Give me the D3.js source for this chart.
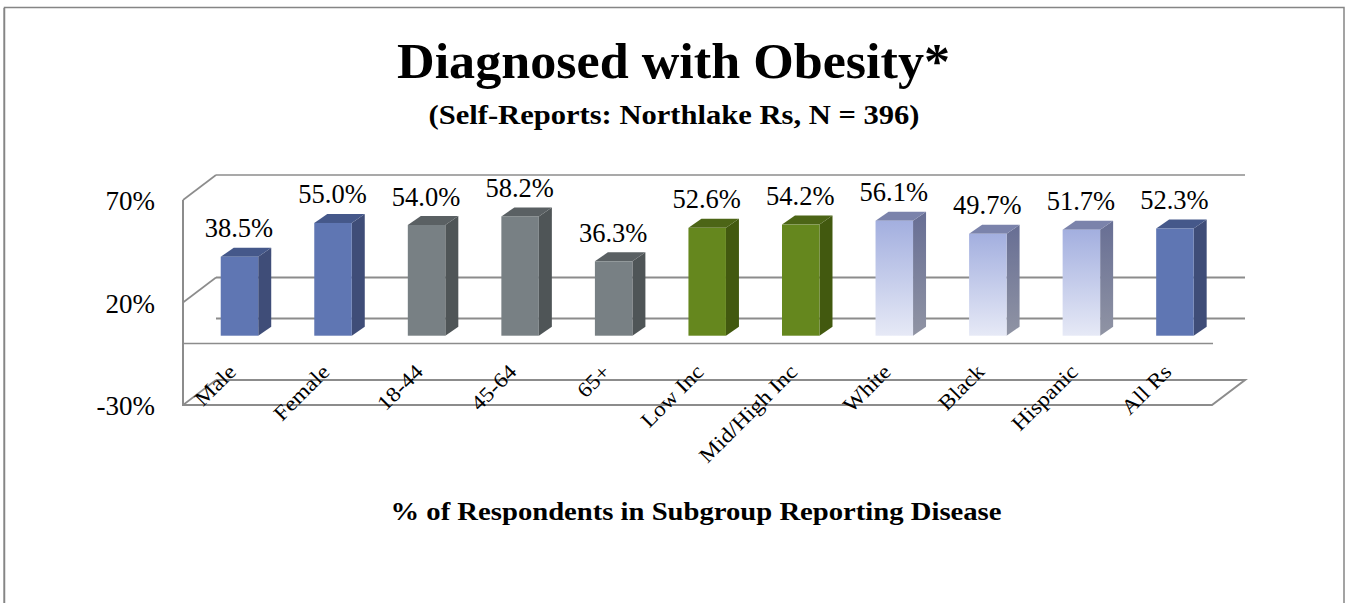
<!DOCTYPE html>
<html><head><meta charset="utf-8">
<script src="https://cdn.jsdelivr.net/npm/d3@7"></script>
<style>html,body{margin:0;padding:0;background:#fff}svg{display:block}text{font-family:"Liberation Serif",serif;fill:#000}</style>
</head><body><svg id="c" width="1350" height="603"></svg>
<script>
const categories=["Male","Female","18-44","45-64","65+","Low Inc","Mid/High Inc","White","Black","Hispanic","All Rs"];
const values=[38.5,55.0,54.0,58.2,36.3,52.6,54.2,56.1,49.7,51.7,52.3];
const groups=["blue","blue","gray","gray","gray","green","green","light","light","light","blue"];
const valueTicks=[70,20,-30];
const titleText="Diagnosed with Obesity*";
const subtitleText="(Self-Reports: Northlake Rs, N = 396)";
const captionText="% of Respondents in Subgroup Reporting Disease";
const palette={
 blue:{front:"#5f76b3",side:"#3f4d78",top:"#45588a"},
 gray:{front:"#788084",side:"#4f5557",top:"#5a6063"},
 green:{front:"#65871e",side:"#42590f",top:"#4c6516"},
 light:{front:"url(#lf)",side:"url(#ls)",top:"#7b83ab"}
};
const svg=d3.select("#c");
const defs=svg.append("defs");
function grad(id,a,b){const g=defs.append("linearGradient").attr("id",id).attr("x1",0).attr("y1",0).attr("x2",0).attr("y2",1);
 g.append("stop").attr("offset",0).attr("stop-color",a);g.append("stop").attr("offset",1).attr("stop-color",b);}
grad("lf","#a3afdf","#e6e9f6");grad("ls","#676e94","#9094a4");

const y=d3.scaleLinear().domain([-30,70]).range([405,200]);
const x=d3.scaleBand().domain(categories).range([183,1212]);
const dx=33,dy=-25;
const barW=37.5,bdx=13,bdy=-9,bx=9.7,by=-7.8;
const line="#8c8c8c";

svg.append("path").attr("d","M4.5,603V7.5H1344V603").attr("fill","none").attr("stroke","#858585").attr("stroke-width",1.5);
svg.append("rect").attr("x",3).attr("y",8).attr("width",1).attr("height",595).attr("fill","#a8a8a8");

const g=svg.append("g").attr("fill","none").attr("stroke",line);
[70,20,0].forEach(t=>g.append("line").attr("x1",x.range()[0]+dx).attr("x2",x.range()[1]+dx).attr("y1",y(t)+dy).attr("y2",y(t)+dy).attr("stroke-width",t==70?1.6:2));
[70,20,-30].forEach(t=>g.append("line").attr("x1",183).attr("y1",y(t)).attr("x2",183+dx).attr("y2",y(t)+dy).attr("stroke-width",1.6));
g.append("path").attr("d",`M${183},${y(-30)}H${1212}L${1212+dx},${y(-30)+dy}H${183+dx}`).attr("stroke-width",2);
g.append("line").attr("x1",183).attr("x2",1213).attr("y1",y(0)).attr("y2",y(0)).attr("stroke-width",1.6);
g.append("line").attr("x1",183).attr("x2",183).attr("y1",y(70)).attr("y2",y(-30)+1).attr("stroke-width",2);

const base=y(0)+by;
const bars=svg.append("g").selectAll("g").data(categories).join("g");
bars.each(function(c,i){
 const v=values[i],p=palette[groups[i]],s=d3.select(this);
 const l=x(c)+x.bandwidth()/2+bx-barW/2,r=l+barW,t=y(v)+by;
 s.append("path").attr("d",`M${r},${t}L${r+bdx},${t+bdy}V${base+bdy}L${r},${base}Z`).attr("fill",p.side);
 s.append("path").attr("d",`M${l},${t}L${l+bdx},${t+bdy}H${r+bdx}L${r},${t}Z`).attr("fill",p.top);
 s.append("rect").attr("x",l).attr("y",t).attr("width",barW).attr("height",base-t).attr("fill",p.front);
 s.append("text").attr("x",l+barW/2-0.5).attr("y",t-19.5).attr("text-anchor","middle").attr("font-size",26.5).text(v.toFixed(1)+"%");
});
svg.append("g").selectAll("text").data(valueTicks).join("text")
 .attr("x",155).attr("y",d=>y(d)+10).attr("text-anchor","end").attr("font-size",27).text(d=>d+"%");
svg.append("g").selectAll("text").data(categories).join("text")
 .attr("text-anchor","end").attr("font-size",21)
 .attr("transform",c=>`translate(${x(c)+x.bandwidth()/2+7.5},${373}) rotate(-45) scale(1.12,1)`)
 .text(c=>c);
svg.append("text").attr("x",673.5).attr("y",78).attr("text-anchor","middle").attr("font-size",50).attr("font-weight","bold").attr("textLength",553).attr("lengthAdjust","spacingAndGlyphs").text(titleText);
svg.append("text").attr("x",674).attr("y",124).attr("text-anchor","middle").attr("font-size",28).attr("font-weight","bold").attr("textLength",491).attr("lengthAdjust","spacingAndGlyphs").text(subtitleText);
svg.append("text").attr("x",696).attr("y",520).attr("text-anchor","middle").attr("font-size",26).attr("font-weight","bold").attr("textLength",611).attr("lengthAdjust","spacingAndGlyphs").text(captionText);
</script></body></html>
